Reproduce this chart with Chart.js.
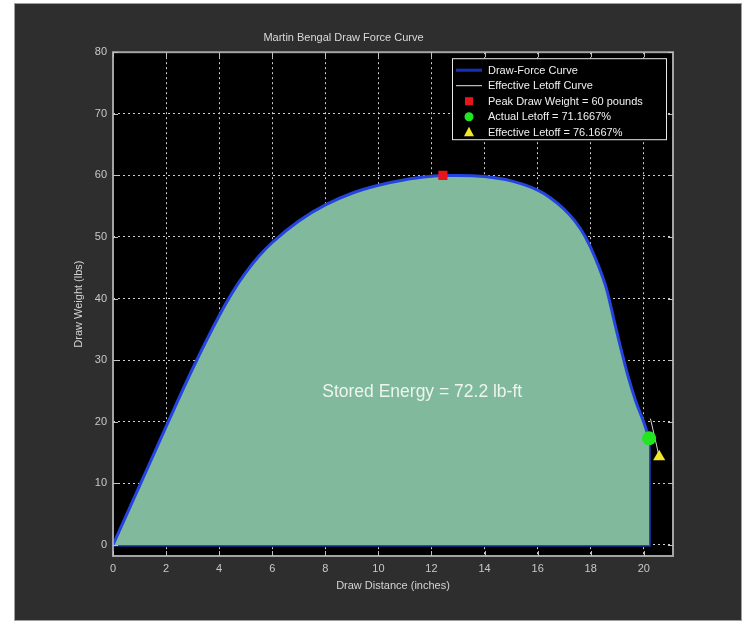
<!DOCTYPE html>
<html>
<head>
<meta charset="utf-8">
<script src="https://cdn.jsdelivr.net/npm/chart.js@4.4.1/dist/chart.umd.min.js"></script>
<style>
  html, body { margin: 0; padding: 0; background: #ffffff; }
  canvas { display: block; }
</style>
</head>
<body>
<canvas id="forceChart" width="746" height="624"></canvas>
<script>
// Draw-force curve of the bow: draw distance (inches) vs draw weight (lbs)
const distanceIn    = [0, 1, 2, 3, 4, 4.5, 5, 5.5, 6, 7, 8, 9, 10, 11, 12, 12.43, 13, 14, 15, 16, 16.5, 17, 17.4, 17.8, 18.2, 18.6, 18.85, 19.1, 19.4, 19.7, 20.0, 20.2];
const drawWeightLbs = [0, 9.6, 19.2, 28.6, 37.2, 41, 44.2, 46.9, 49.1, 52.6, 55.2, 57.1, 58.4, 59.3, 59.85, 60, 60, 59.8, 59.1, 57.6, 56.3, 54.5, 52.6, 50.0, 46.3, 41.5, 37, 32.5, 27.5, 23.3, 19.9, 17.3];

// Key values reported in the legend / annotation
const peakWeightLbs = 60;
const peakDistanceIn = 12.43;
const actualLetoffPct = 71.1667;
const effectiveLetoffPct = 76.1667;
const actualLetoffDistanceIn = 20.2;
const effectiveLetoffDistanceIn = 20.58;
const storedEnergyFtLb = 72.2;

// Effective letoff curve segment
const effLetoffCurveX = [20.25, 20.58];
const effLetoffCurveY = [20.5, 14.3];

// Axis ticks
const xTicks = [0, 2, 4, 6, 8, 10, 12, 14, 16, 18, 20];
const yTicks = [0, 10, 20, 30, 40, 50, 60, 70, 80];

const actualLetoffLbs = peakWeightLbs * (1 - actualLetoffPct / 100);
const effectiveLetoffLbs = peakWeightLbs * (1 - effectiveLetoffPct / 100);

const FONT = '"Liberation Sans", Arial, sans-serif';
const CURVE_BLUE = '#2444e0';
const FILL_GREEN = '#80b99b';

const toPoints = (xs, ys) => xs.map((x, i) => ({ x: x, y: ys[i] }));
const curvePts = toPoints(distanceIn, drawWeightLbs);
const lastIdx = distanceIn.length - 1;
// closing edge: vertical drop at full draw and the baseline back to zero
const closingPts = [
  { x: distanceIn[lastIdx], y: drawWeightLbs[lastIdx] },
  { x: distanceIn[lastIdx], y: 0 },
  { x: distanceIn[0], y: 0 }
];

const panelPlugin = {
  id: 'panel',
  beforeDraw(chart) {
    const { ctx, chartArea: a } = chart;
    ctx.save();
    ctx.fillStyle = '#ffffff';
    ctx.fillRect(0, 0, chart.width, chart.height);
    ctx.fillStyle = '#2e2e2e';
    ctx.fillRect(15, 4, 726, 616);
    ctx.strokeStyle = '#a0a0a0';
    ctx.lineWidth = 1;
    ctx.strokeRect(14.5, 3.5, 727, 617);
    ctx.fillStyle = '#000000';
    ctx.fillRect(a.left, a.top, a.right - a.left, a.bottom - a.top);
    ctx.restore();
  }
};

function drawMarker(ctx, style, x, y, r, fill) {
  ctx.save();
  ctx.fillStyle = fill;
  ctx.beginPath();
  if (style === 'rect') {
    ctx.rect(x - r, y - r, 2 * r, 2 * r);
  } else if (style === 'circle') {
    ctx.arc(x, y, r, 0, Math.PI * 2);
  } else if (style === 'triangle') {
    ctx.moveTo(x, y - r * 1.1);
    ctx.lineTo(x + r, y + r * 0.8);
    ctx.lineTo(x - r, y + r * 0.8);
    ctx.closePath();
  }
  ctx.fill();
  ctx.restore();
}

const overlayPlugin = {
  id: 'overlay',
  afterDatasetsDraw(chart) {
    const { ctx, chartArea: a, scales } = chart;
    ctx.save();
    // stored energy annotation
    ctx.fillStyle = '#eef5ee';
    ctx.font = '17.5px ' + FONT;
    ctx.textAlign = 'center';
    ctx.textBaseline = 'middle';
    ctx.fillText('Stored Energy = ' + storedEnergyFtLb + ' lb-ft',
      scales.x.getPixelForValue(11.65), scales.y.getPixelForValue(24.8));

    // axes box
    ctx.strokeStyle = '#a4a4a4';
    ctx.lineWidth = 2;
    ctx.strokeRect(a.left, a.top, a.right - a.left, a.bottom - a.top);

    // inward tick marks on all four sides
    ctx.lineWidth = 1;
    ctx.strokeStyle = '#c0c0c0';
    const tl = 5;
    scales.x.ticks.forEach(t => {
      const px = Math.round(scales.x.getPixelForValue(t.value)) + 0.5;
      ctx.beginPath();
      ctx.moveTo(px, a.bottom); ctx.lineTo(px, a.bottom - tl);
      ctx.moveTo(px, a.top); ctx.lineTo(px, a.top + tl);
      ctx.stroke();
    });
    scales.y.ticks.forEach(t => {
      const py = Math.round(scales.y.getPixelForValue(t.value)) + 0.5;
      ctx.beginPath();
      ctx.moveTo(a.left, py); ctx.lineTo(a.left + tl, py);
      ctx.moveTo(a.right, py); ctx.lineTo(a.right - tl, py);
      ctx.stroke();
    });
    ctx.restore();
  },
  afterDraw(chart) {
    const { ctx, chartArea: a } = chart;
    // legend box in the upper right of the axes
    const w = 215, h = 82;
    const left = a.right - 6 - w, top = a.top + 6;
    ctx.save();
    ctx.fillStyle = '#000000';
    ctx.fillRect(left, top, w, h);
    ctx.strokeStyle = '#e8e8e8';
    ctx.lineWidth = 1;
    ctx.strokeRect(left + 0.5, top + 0.5, w - 1, h - 1);
    ctx.font = '11px ' + FONT;
    ctx.textAlign = 'left';
    ctx.textBaseline = 'middle';
    const rows = chart.data.datasets.filter(d => d.label);
    rows.sort((p, q) => p.legendRank - q.legendRank);
    rows.forEach((d, i) => {
      const y = top + 12 + i * 15.5;
      const mx = left + 17;
      if (d.legendKind === 'line') {
        ctx.strokeStyle = d.legendColor;
        ctx.lineWidth = d.legendWidth;
        ctx.beginPath();
        ctx.moveTo(left + 4, y); ctx.lineTo(left + 30, y);
        ctx.stroke();
      } else {
        drawMarker(ctx, d.pointStyle, mx, y, d.legendSize, d.backgroundColor);
      }
      ctx.fillStyle = '#f0f0f0';
      ctx.fillText(d.label, left + 36, y + 0.5);
    });
    ctx.restore();
  }
};

const fixedWidth = w => function (scale) { scale.width = w; };
const fixedHeight = h => function (scale) { scale.height = h; };

new Chart(document.getElementById('forceChart'), {
  type: 'scatter',
  data: {
    datasets: [
      {
        label: 'Peak Draw Weight = ' + peakWeightLbs + ' pounds',
        legendRank: 2, legendSize: 4,
        data: [{ x: peakDistanceIn, y: peakWeightLbs }],
        pointStyle: 'rect', pointRadius: 6.5, pointHoverRadius: 6.5,
        backgroundColor: '#e8161c', borderColor: '#e8161c', borderWidth: 0,
        order: 0
      },
      {
        label: 'Actual Letoff = ' + actualLetoffPct + '%',
        legendRank: 3, legendSize: 4.5,
        data: [{ x: actualLetoffDistanceIn, y: actualLetoffLbs }],
        pointStyle: 'circle', pointRadius: 7, pointHoverRadius: 7,
        backgroundColor: '#22e622', borderColor: '#22e622', borderWidth: 0,
        order: 1
      },
      {
        label: 'Effective Letoff = ' + effectiveLetoffPct + '%',
        legendRank: 4, legendSize: 5,
        data: [{ x: effectiveLetoffDistanceIn, y: effectiveLetoffLbs }],
        pointStyle: 'triangle', pointRadius: 7, pointHoverRadius: 7,
        backgroundColor: '#f2e62a', borderColor: '#f2e62a', borderWidth: 0,
        order: 2
      },
      {
        label: 'Effective Letoff Curve',
        legendRank: 1, legendKind: 'line', legendColor: '#e6e6e6', legendWidth: 1,
        data: toPoints(effLetoffCurveX, effLetoffCurveY),
        showLine: true, borderColor: '#d6d6d6', borderWidth: 1,
        pointRadius: 0, fill: false,
        order: 3
      },
      {
        label: 'Draw-Force Curve',
        legendRank: 0, legendKind: 'line', legendColor: '#1a2fb8', legendWidth: 3,
        data: curvePts,
        showLine: true, borderColor: CURVE_BLUE, borderWidth: 3,
        backgroundColor: FILL_GREEN, fill: 'origin',
        cubicInterpolationMode: 'monotone',
        pointRadius: 0,
        order: 4
      },
      {
        label: '',
        data: closingPts,
        showLine: true, borderColor: CURVE_BLUE, borderWidth: 3,
        pointRadius: 0, fill: false, tension: 0,
        order: 5
      }
    ]
  },
  options: {
    responsive: false,
    animation: false,
    devicePixelRatio: 1,
    layout: { padding: { left: 14, top: 4, right: 73, bottom: 8 } },
    plugins: {
      legend: { display: false },
      tooltip: { enabled: false },
      title: {
        display: true,
        text: 'Martin Bengal Draw Force Curve',
        color: '#dadada',
        font: { family: FONT, size: 11, weight: 'normal' },
        padding: { top: 27, bottom: 8 }
      }
    },
    scales: {
      x: {
        type: 'linear',
        min: 0, max: 21.1,
        afterFit: fixedHeight(60),
        afterBuildTicks: s => { s.ticks = xTicks.map(v => ({ value: v })); },
        ticks: { color: '#c8c8c8', font: { family: FONT, size: 11 }, padding: 6, maxRotation: 0, autoSkip: false },
        grid: { color: '#cfcfcf', lineWidth: 1, drawTicks: false },
        border: { display: false, dash: [2, 3] },
        title: {
          display: true, text: 'Draw Distance (inches)', color: '#d4d4d4',
          font: { family: FONT, size: 11 }, padding: { top: 0, bottom: 23 }
        }
      },
      y: {
        type: 'linear',
        min: -1.8, max: 80,
        afterFit: fixedWidth(99),
        afterBuildTicks: s => { s.ticks = yTicks.map(v => ({ value: v })); },
        ticks: { color: '#c8c8c8', font: { family: FONT, size: 11 }, padding: 6, autoSkip: false },
        grid: { color: '#cfcfcf', lineWidth: 1, drawTicks: false },
        border: { display: false, dash: [2, 3] },
        title: {
          display: true, text: 'Draw Weight (lbs)', color: '#d4d4d4',
          font: { family: FONT, size: 11 }, padding: { top: 58, bottom: 0 }
        }
      }
    }
  },
  plugins: [panelPlugin, overlayPlugin]
});
</script>
</body>
</html>
